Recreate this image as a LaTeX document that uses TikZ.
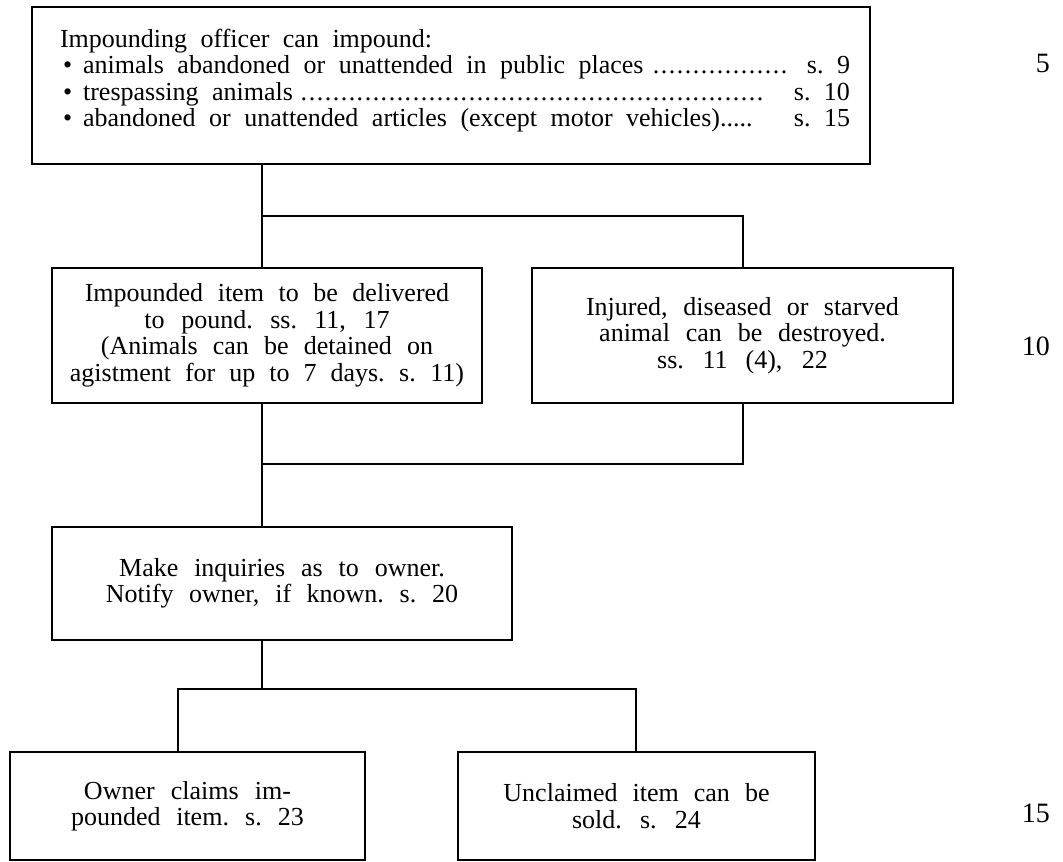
\documentclass[tikz,border=0pt]{standalone}
\usepackage{fontspec}
\setmainfont{Liberation Serif}
\newcommand\wsp{\spaceskip=13.5pt plus 2pt minus 2pt\xspaceskip=14pt plus 2pt minus 2pt\relax}
\newcommand\bodyfont{\fontsize{26pt}{26.5pt}\selectfont\wsp}
\newcommand\marginfont{\fontsize{28pt}{30pt}\selectfont}
\newcommand\dotlead{\leaders\hbox to 8pt{\hss.\hss}\hfill}
\begin{document}
\begin{tikzpicture}[x=1pt,y=-1pt,
  box/.style={draw,line width=2pt,inner sep=0pt,align=center,font=\bodyfont},
  conn/.style={line width=2pt},
  num/.style={font=\marginfont,anchor=base east,inner sep=0pt}]
\useasboundingbox[fill=white] (0,0) rectangle (1063,862);

% boxes
\node[box,minimum width=838pt,minimum height=157pt] (T) at (451,85.5) {\parbox{798pt}{\wsp
\hbox to 798pt{\hspace*{8pt}Impounding officer can impound:\hfil}%
\hbox to 798pt{\hspace*{11pt}\textbullet\hspace{11pt}animals abandoned or unattended in public places\hspace{5pt}\dotlead\hspace{17pt}s.~9}%
\hbox to 798pt{\hspace*{11pt}\textbullet\hspace{11pt}trespassing animals\dotlead\hspace{22pt}s.~10}%
\hbox to 798pt{\hspace*{11pt}\textbullet\hspace{11pt}abandoned or unattended articles (except motor vehicles).....\hfil s.~15}%
\vspace{10pt}}};

\node[box,minimum width=430pt,minimum height=135pt,text width=420pt] (L) at (267,335.5)
  {\wsp Impounded item to be delivered\\to pound. ss. 11, 17\\(Animals can be detained on\\agistment for up to 7 days. s. 11)};
\node[box,minimum width=421pt,minimum height=135pt,text width=410pt] (R) at (742.5,335.5)
  {\wsp Injured, diseased or starved\\animal can be destroyed.\\ss. 11 (4), 22};
\node[box,minimum width=460pt,minimum height=113pt,text width=450pt] (M) at (282,583.5)
  {\wsp Make inquiries as to owner.\\Notify owner, if known. s. 20};
\node[box,minimum width=355pt,minimum height=108pt,text width=345pt] (O) at (187.5,806)
  {\wsp Owner claims im-\\pounded item. s. 23};
\node[box,minimum width=357pt,minimum height=108pt,text width=347pt] (U) at (636.5,806)
  {\wsp Unclaimed item can be\\sold. s. 24};

% junction points
\coordinate (s1) at (262,216);
\coordinate (s1r) at (743,216);
\coordinate (s2) at (262,464);
\coordinate (s2r) at (743,464);
\coordinate (s3) at (262,689);
\coordinate (s3l) at (178,689);
\coordinate (s3r) at (636,689);

% connectors
\draw[conn] (T.south -| s1) -- (L.north -| s1);
\draw[conn] (s1) -- (s1r) -- (R.north -| s1r);
\draw[conn] (L.south -| s2) -- (M.north -| s2);
\draw[conn] (R.south -| s2r) -- (s2r) -- (s2);
\draw[conn] (M.south -| s3) -- (s3);
\draw[conn] (O.north -| s3l) -- (s3l) -- (s3r) -- (U.north -| s3r);

% margin line numbers
\node[num] (n5) at (1050,72) {5};
\node[num] (n10) at (1050,355) {10};
\node[num] (n15) at (1050,822) {15};
\end{tikzpicture}
\end{document}
